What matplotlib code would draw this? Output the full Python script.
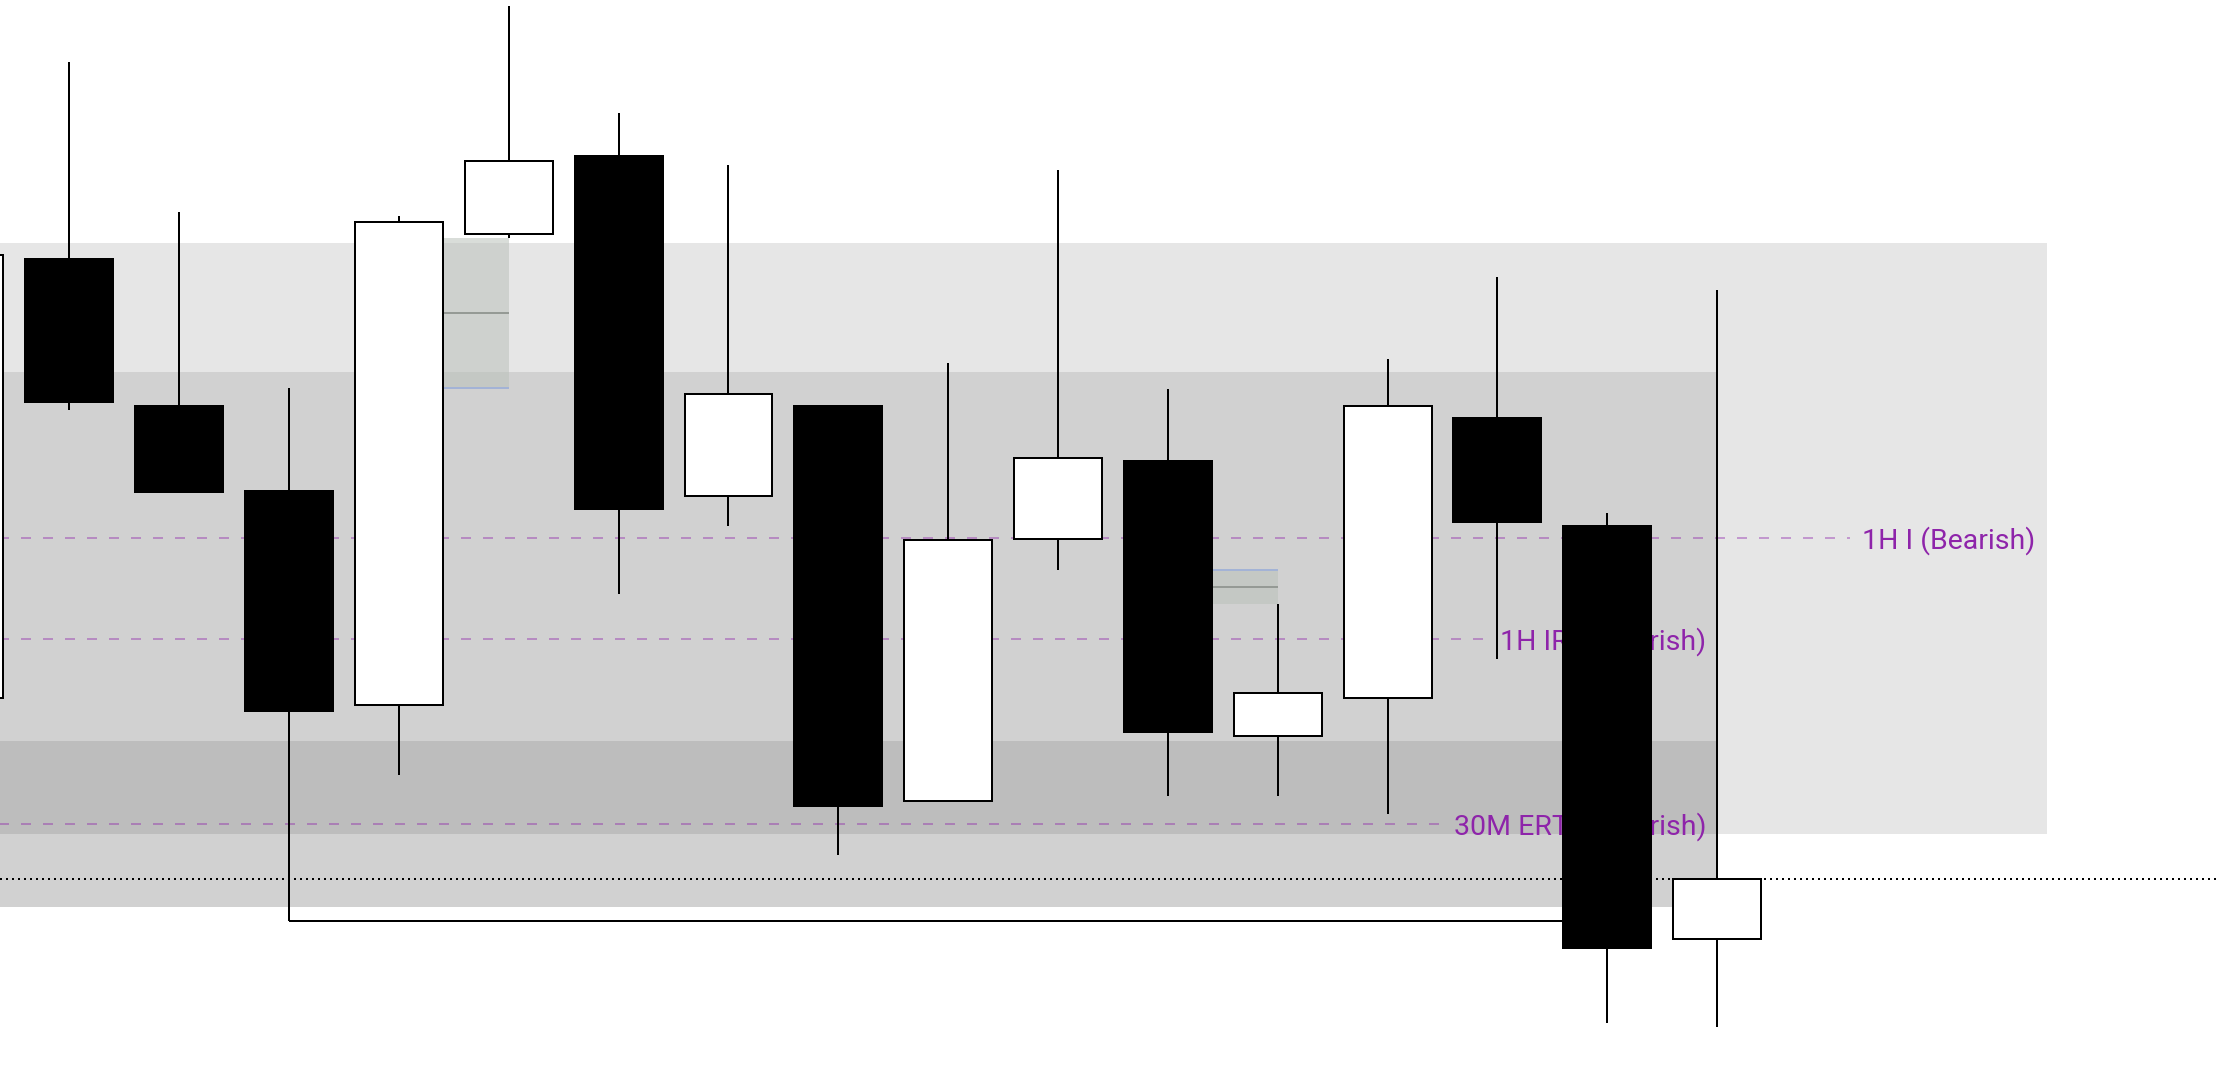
import matplotlib
matplotlib.use("Agg")
import matplotlib.pyplot as plt
from matplotlib.patches import Rectangle
import numpy as np

# candle data (price units); first candle is cut by the left edge
idx    = np.arange(-1, 16)
opens  = [374, 813, 666, 581, 367, 838, 916.5, 576, 666, 271, 533.5, 611, 336, 374, 654, 546, 133.5]
highs  = [817, 1010, 860, 684, 856, 1066, 959, 907, 666, 709, 902, 683, 468.5, 713, 795, 559, 782]
lows   = [374, 662, 580, 151, 297.5, 834, 478, 546, 217, 271, 502, 276, 276, 258, 413, 49, 45]
closes = [817, 670, 580, 361, 850, 911, 563, 678, 266, 532, 614, 340, 379, 666, 550.5, 124, 193]

# shaded zones: top, bottom, last candle index, colour
zone_top    = [829, 700, 331]
zone_bottom = [238, 165, 238]
zone_end    = [18, 15, 15]
zone_color  = ['#e6e6e6', '#d1d1d1', '#bdbdbd']

# labelled levels
level_price = [534, 433, 248]
level_label = ['1H I (Bearish)', '1H IRL (Bearish)', '30M ERTL (Bearish)']
level_end   = [18, 15, 15]

# fair value gaps, given by the middle candle
fvg_candles = [3, 10]

lw = 1.44   # 2 px at dpi 100
purple = '#8e24aa'

fig = plt.figure(figsize=(22.16, 10.72), dpi=100)
ax = fig.add_axes([0, 0, 1, 1])
ax.set_xlim(-0.631, 19.541)
ax.set_ylim(0, 1072)
ax.axis("off")

# zones
for top, bot, end, col in zip(zone_top, zone_bottom, zone_end, zone_color):
    ax.add_patch(Rectangle((-3, bot), end + 3, top - bot, facecolor=col,
                           edgecolor='none', zorder=1))

# fair value gaps
for c in fvg_candles:
    k = c + 1   # position in arrays (idx starts at -1)
    if lows[k + 1] > highs[k - 1]:
        bot, top, edge = highs[k - 1], lows[k + 1], highs[k - 1]
    else:
        bot, top, edge = highs[k + 1], lows[k - 1], lows[k - 1]
    x0, x1 = c + 0.4, c + 1
    ax.add_patch(Rectangle((x0, bot), x1 - x0, top - bot, facecolor='#bbc1bb',
                           alpha=0.55, edgecolor='none', zorder=2))
    ax.hlines((top + bot) / 2, x0, x1, color='#959a95', lw=lw, zorder=2)
    ax.hlines(edge, x0, x1, color='#a3b3d6', lw=lw, zorder=2)

# levels with labels
fig.canvas.draw()
renderer = fig.canvas.get_renderer()
for price, label, end in zip(level_price, level_label, level_end):
    t = ax.text(end - 0.1, price - 3, label, ha='right', va='center',
                fontsize=20.5, family=['Roboto', 'DejaVu Sans'],
                color=purple, zorder=2)
    bb = t.get_window_extent(renderer)
    x_stop = ax.transData.inverted().transform((bb.x0 - 12, 0))[0]
    ax.hlines(price, -1, x_stop, color=purple, alpha=0.4, lw=lw,
              linestyles=(0, (5, 6)), zorder=2)

# line from candle 2 low across to candle 14
ax.hlines(lows[3], 2, 14, color='black', lw=lw, zorder=3)

# last price line
ax.axhline(closes[-1], color='black', lw=lw, linestyle=(0, (1, 2)), zorder=3)

# candles
ax.vlines(idx, lows, highs, color='black', lw=lw, zorder=4)
o = np.array(opens)
c = np.array(closes)
body_col = np.where(c >= o, 'white', 'black')
ax.bar(idx, np.abs(c - o), bottom=np.minimum(o, c), width=0.8,
       color=body_col, edgecolor='black', linewidth=lw, zorder=5)

fig.savefig("out.png", dpi=100)
